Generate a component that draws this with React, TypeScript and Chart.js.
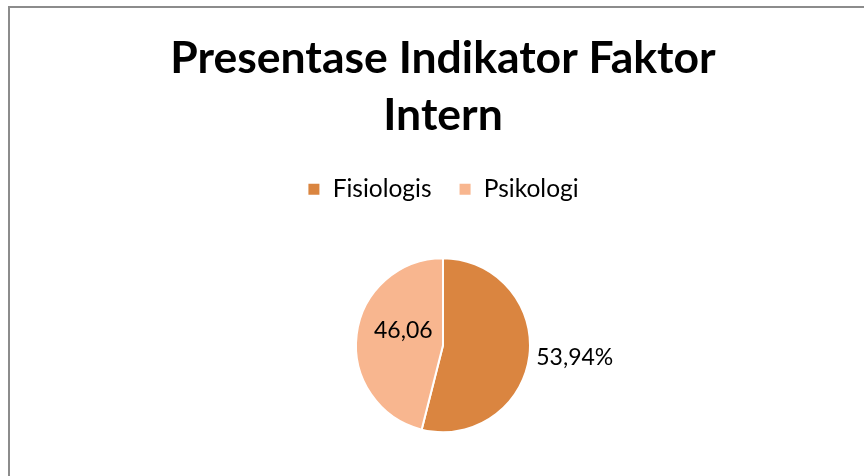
import React, { useEffect, useRef } from "react";
import { Chart, registerables } from "chart.js";

Chart.register(...registerables);

const categories = ["Fisiologis", "Psikologi"];
const values = [53.94, 46.06];
const dataLabels = ["53,94%", "46,06"];
const sliceColors = ["#DA8540", "#F8B68F"];
const titleLines = ["Presentase Indikator Faktor", "Intern"];

const FONT = "Lato";

const sliceLabelPlugin = {
  id: "sliceLabels",
  afterDatasetsDraw(chart: any) {
    const meta = chart.getDatasetMeta(0);
    const ctx = chart.ctx;
    ctx.save();
    ctx.font = `23px ${FONT}`;
    ctx.fillStyle = "#000000";
    ctx.textBaseline = "middle";
    meta.data.forEach((arc: any, i: number) => {
      const { x, y, startAngle, endAngle, outerRadius } = arc.getProps(
        ["x", "y", "startAngle", "endAngle", "outerRadius"],
        true
      );
      const mid = (startAngle + endAngle) / 2;
      if (i === 0) {
        const r = outerRadius + 7;
        ctx.textAlign = "left";
        ctx.fillText(dataLabels[i], x + Math.cos(mid) * r, y + Math.sin(mid) * r + 1);
      } else {
        const r = outerRadius * 0.46;
        ctx.textAlign = "center";
        ctx.fillText(dataLabels[i], x + Math.cos(mid) * r, y + Math.sin(mid) * r - 10);
      }
    });
    ctx.restore();
  },
};

export default function App() {
  const canvasRef = useRef<HTMLCanvasElement | null>(null);

  useEffect(() => {
    if (!canvasRef.current) return;
    const chart = new Chart(canvasRef.current, {
      type: "pie",
      data: {
        labels: categories,
        datasets: [
          {
            data: values,
            backgroundColor: sliceColors,
            borderColor: "#ffffff",
            borderWidth: 2,
            radius: 87,
          },
        ],
      },
      options: {
        animation: false,
        responsive: false,
        events: [],
        layout: { padding: { top: 0, bottom: 3, left: 0, right: 0 } },
        plugins: {
          title: {
            display: true,
            text: titleLines,
            color: "#000000",
            font: { family: FONT, size: 44.5, weight: "bold", lineHeight: 57 / 44.5 },
            padding: { top: 22, bottom: 6 },
          },
          legend: {
            display: true,
            position: "top",
            labels: {
              color: "#000000",
              font: { family: FONT, size: 24.5 },
              boxWidth: 13,
              boxHeight: 13,
              padding: 27,
            },
          },
          tooltip: { enabled: false },
        },
      },
      plugins: [sliceLabelPlugin],
    });
    return () => chart.destroy();
  }, []);

  return (
    <div
      style={{
        position: "fixed",
        left: 0,
        top: 0,
        width: 864,
        height: 476,
        overflow: "hidden",
        background: "#ffffff",
      }}
    >
      <div
        style={{
          position: "absolute",
          left: 8,
          top: 6,
          width: 868,
          height: 476,
          borderLeft: "2px solid #8c8c8c",
          borderTop: "2px solid #8c8c8c",
          background: "#ffffff",
        }}
      >
        <canvas ref={canvasRef} width={866} height={474} style={{ display: "block" }} />
      </div>
    </div>
  );
}
